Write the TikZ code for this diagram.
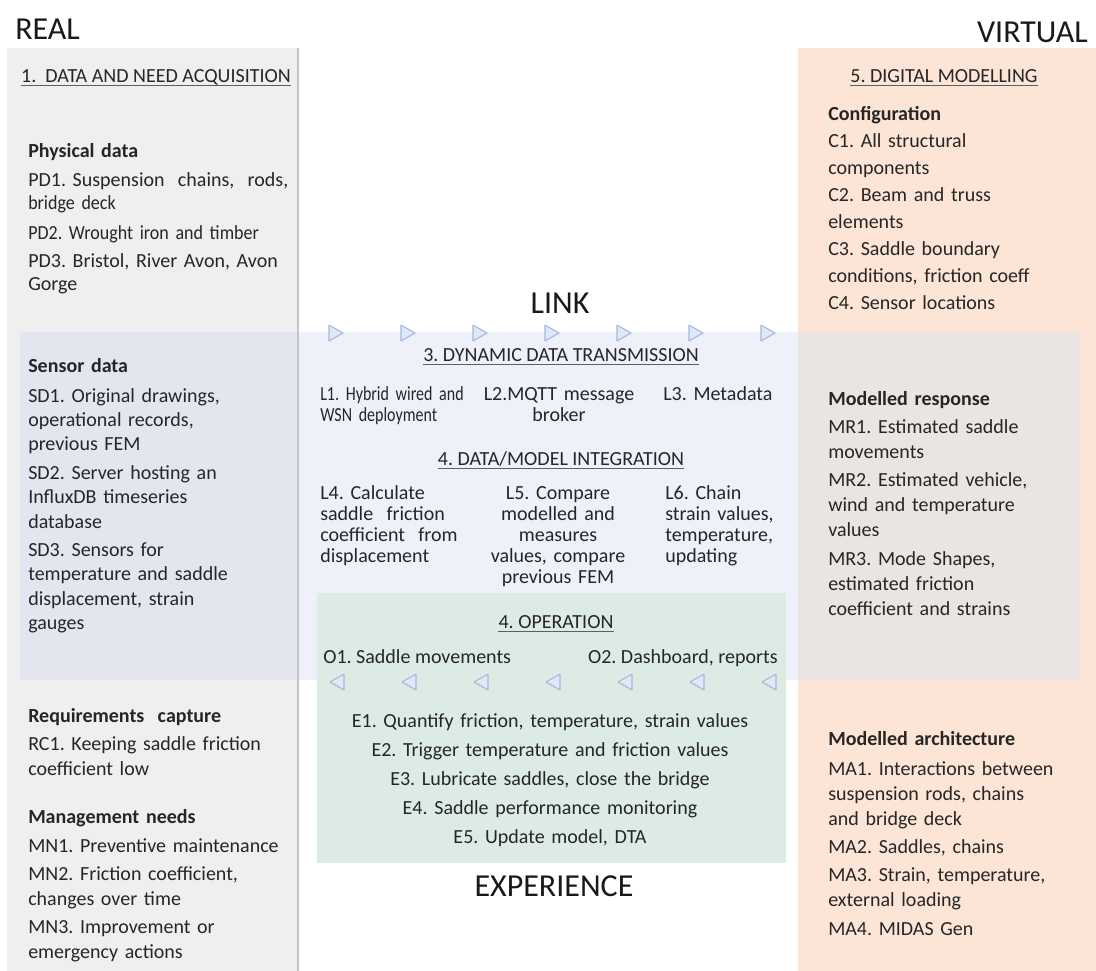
\documentclass[tikz,border=0pt]{standalone}
\usepackage{fontspec}
\setmainfont{Carlito}
\newfontfamily\narrowfont[FakeStretch=0.9]{Carlito}
\newfontfamily\narrowerfont[FakeStretch=0.8]{Carlito}
\frenchspacing

\definecolor{realgray}{RGB}{239,239,239}
\definecolor{realedge}{RGB}{196,196,196}
\definecolor{virtorange}{RGB}{252,228,214}
\definecolor{linkblue}{RGB}{238,241,250}
\definecolor{linkgray}{RGB}{227,230,239}
\definecolor{linkrose}{RGB}{234,228,227}
\definecolor{expgreen}{RGB}{221,235,229}
\definecolor{arrowline}{RGB}{165,185,222}
\definecolor{arrowfill}{RGB}{224,232,246}
\definecolor{inktext}{RGB}{38,38,38}
\definecolor{ruleink}{RGB}{95,95,95}

\tikzset{
  itemlist/.style={inner sep=0pt, anchor=base west, align=left, text width=240pt,
    text=inktext, font=\fontsize{15}{18.75}\selectfont},
  centerlist/.style={inner sep=0pt, anchor=base, align=center, text width=150pt,
    text=inktext, font=\fontsize{15}{15.75}\selectfont},
  sechead/.style={inner sep=0pt, anchor=base, text=inktext, font=\fontsize{15}{18}\selectfont},
  bigword/.style={inner sep=0pt, text=black!90, font=\fontsize{24}{28}\selectfont},
  headrule/.style={draw=ruleink, line width=1.1pt},
  fwdtri/.style={draw=arrowline, fill=arrowfill, line width=0.8pt, line join=round},
  backtri/.style={draw=arrowline, fill=arrowfill, line width=0.8pt, line join=round}
}

\begin{document}
\begin{tikzpicture}[x=0.75pt, y=-0.75pt]
  \useasboundingbox (0,0) rectangle (1096,971);

  % panels
  \fill[realgray] (7,48) rectangle (298,971);
  \fill[virtorange] (798,48) rectangle (1096,971);
  \fill[linkgray] (20,332) rectangle (298,680);
  \fill[linkblue] (298,332) rectangle (798,680);
  \fill[linkrose] (798,332) rectangle (1080,680);
  \fill[expgreen] (317,593) rectangle (786,863);
  \draw[realedge, line width=1.3pt] (298,48) -- (298,971);

  % flow marks
  \foreach \i in {0,...,6}
    \draw[fwdtri] ({335+72*\i},333) ++(-6,-8) -- ++(14,8) -- ++(-14,8) -- cycle;
  \foreach \i in {0,...,6}
    \draw[backtri] ({337+72*\i},682) ++(7,-8) -- ++(-14,8) -- ++(14,8) -- cycle;

  % big words
  \node[bigword, anchor=base west] (real) at (15,39) {REAL};
  \node[bigword, anchor=base east] (virtual) at (1088,42) {VIRTUAL};
  \node[bigword, anchor=base] (link) at (560,313) {LINK};
  \node[bigword, anchor=base] (experience) at (554,896) {EXPERIENCE};

  % section heads
  \node[sechead] (acq) at (156,82) {1.\ \ DATA AND NEED ACQUISITION};
  \node[sechead] (dig) at (944,82) {5. DIGITAL MODELLING};
  \node[sechead] (ddt) at (561,361) {3. DYNAMIC DATA TRANSMISSION};
  \node[sechead] (dmi) at (561,465) {4. DATA/MODEL INTEGRATION};
  \node[sechead] (ope) at (556,628) {4. OPERATION};
  \foreach \h in {acq,dig,ddt,dmi,ope}
    \draw[headrule] ([yshift=-2.6pt]\h.base west) -- ([yshift=-2.6pt]\h.base east);

  % real side
  \node[itemlist, font=\fontsize{15}{17.25}\selectfont] (pd) at (28,157)
    {\textbf{Physical data}\\[5pt]
     PD1. Suspension\ \ chains,\ \ rods,\\
     {\narrowfont bridge deck}\\[5pt]
     {\narrowfont PD2. Wrought iron and timber}\\[4pt]
     PD3. Bristol, River Avon, Avon\\
     Gorge};
  \node[itemlist, font=\fontsize{15}{18.3}\selectfont] (sd) at (28,372)
    {\textbf{Sensor data}\\[4.2pt]
     SD1. Original drawings,\\
     operational records,\\
     previous FEM\\[3pt]
     SD2. Server hosting an\\
     InfluxDB timeseries\\
     database\\[3pt]
     SD3. Sensors for\\
     temperature and saddle\\
     displacement, strain\\
     gauges};
  \node[itemlist] (rc) at (28,722)
    {\textbf{Requirements\ \ capture}\\[2.5pt]
     RC1. Keeping saddle friction\\
     coefficient low};
  \node[itemlist] (mn) at (28,823)
    {\textbf{Management needs}\\[3pt]
     MN1. Preventive maintenance\\[2.5pt]
     MN2. Friction coefficient,\\
     changes over time\\[2.5pt]
     MN3. Improvement or\\
     emergency actions};

  % virtual side
  \node[itemlist, font=\fontsize{15}{20.3}\selectfont] (cfg) at (828,120)
    {\textbf{Configuration}\\
     C1. All structural\\
     components\\
     C2. Beam and truss\\
     elements\\
     C3. Saddle boundary\\
     conditions, friction coeff\\
     C4. Sensor locations};
  \node[itemlist] (mr) at (828,405)
    {\textbf{Modelled response}\\[2.5pt]
     MR1. Estimated saddle\\
     movements\\[2.5pt]
     MR2. Estimated vehicle,\\
     wind and temperature\\
     values\\[2.5pt]
     MR3. Mode Shapes,\\
     estimated friction\\
     coefficient and strains};
  \node[itemlist] (ma) at (828,745)
    {\textbf{Modelled architecture}\\[3.75pt]
     MA1. Interactions between\\
     suspension rods, chains\\
     and bridge deck\\[2.5pt]
     MA2. Saddles, chains\\[2.5pt]
     MA3. Strain, temperature,\\
     external loading\\[2.5pt]
     MA4. MIDAS Gen};

  % link
  \node[itemlist, font=\narrowerfont\fontsize{15}{16}\selectfont] (l1) at (320,400)
    {L1. Hybrid wired and\\ WSN deployment};
  \node[centerlist] (l2) at (559,400) {L2.MQTT message\\ broker};
  \node[itemlist] (l3) at (663,400) {L3. Metadata};
  \node[itemlist, font=\fontsize{15}{15.75}\selectfont] (l4) at (320,499)
    {L4. Calculate\\ saddle\ \ friction\\ coefficient\ \ from\\ displacement};
  \node[centerlist] (l5) at (558,499)
    {L5. Compare\\ modelled and\\ measures\\ values, compare\\ previous FEM};
  \node[itemlist, font=\fontsize{15}{15.75}\selectfont] (l6) at (665,499)
    {L6. Chain\\ strain values,\\ temperature,\\ updating};

  % experience
  \node[sechead, anchor=base west] (o1) at (323,663) {O1. Saddle movements};
  \node[sechead, anchor=base east] (o2) at (778,663) {O2. Dashboard, reports};
  \node[centerlist, text width=330pt, font=\fontsize{15}{21.75}\selectfont] (e) at (550,727)
    {E1. Quantify friction, temperature, strain values\\
     E2. Trigger temperature and friction values\\
     E3. Lubricate saddles, close the bridge\\
     E4. Saddle performance monitoring\\
     E5. Update model, DTA};
\end{tikzpicture}
\end{document}
